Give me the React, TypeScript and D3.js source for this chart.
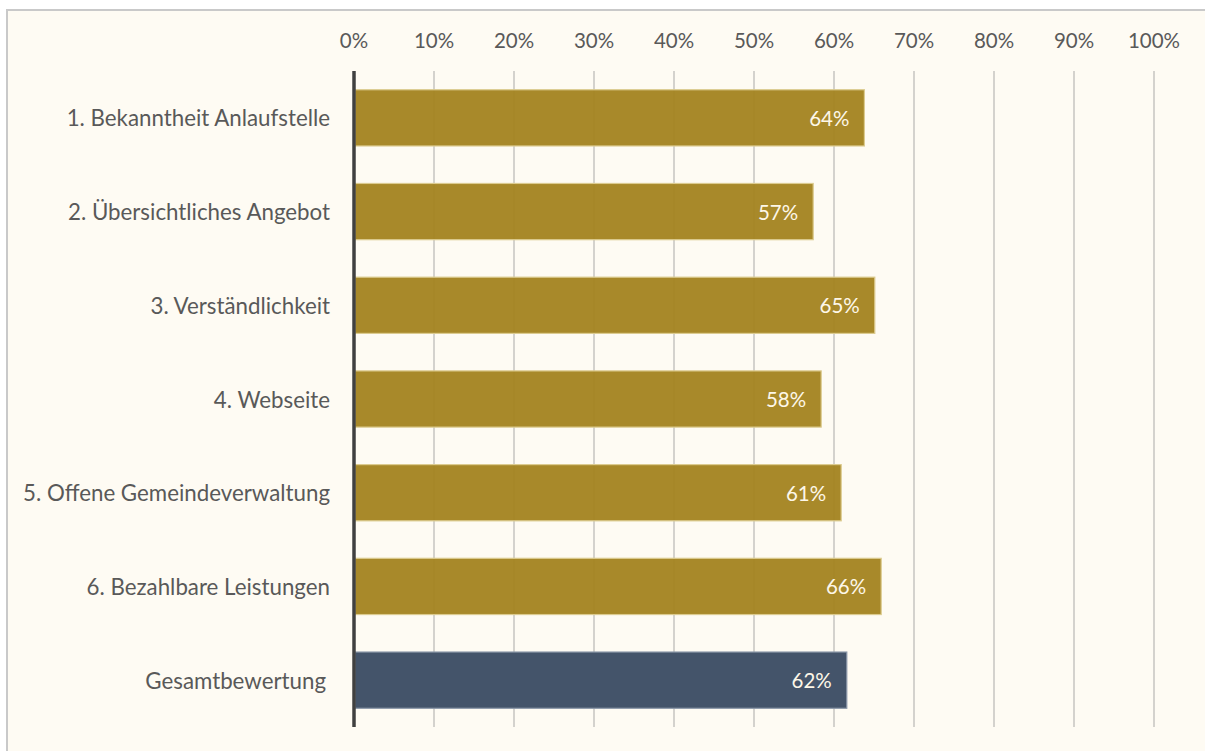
import React from "react";
import * as d3 from "d3";

const categories = [
  "1. Bekanntheit Anlaufstelle",
  "2. Übersichtliches Angebot",
  "3. Verständlichkeit",
  "4. Webseite",
  "5. Offene Gemeindeverwaltung",
  "6. Bezahlbare Leistungen",
  "Gesamtbewertung",
];
const values = [63.8, 57.4, 65.1, 58.4, 60.9, 65.9, 61.6];
const labels = ["64%", "57%", "65%", "58%", "61%", "66%", "62%"];
const ticks = [0, 10, 20, 30, 40, 50, 60, 70, 80, 90, 100];

const W = 1205;
const H = 751;
const FONT = "Lato, 'Open Sans', sans-serif";

export default function App() {
  const x = d3.scaleLinear().domain([0, 100]).range([354, 1154]);
  const y = d3.scaleBand().domain(categories).range([71, 727]).paddingInner(0.4).paddingOuter(0.2);

  return (
    <div style={{ position: "fixed", left: 0, top: 0, width: W, height: H, background: "#fff" }}>
      <svg width={W} height={H} style={{ display: "block" }}>
        <rect x={7} y={10} width={W + 20} height={H + 20} fill="#fefbf3" stroke="#c9c9c9" strokeWidth={2} />
        {ticks.map((t) => (
          <g key={t}>
            {t > 0 && (
              <line x1={x(t)} x2={x(t)} y1={71} y2={727} stroke="#d4d2cd" strokeWidth={2} />
            )}
            <text x={x(t)} y={40} textAnchor="middle" dominantBaseline="central" fontFamily={FONT} fontSize={20.5} fill="#595959">
              {t}%
            </text>
          </g>
        ))}
        {categories.map((c, i) => {
          const last = i === categories.length - 1;
          const yy = y(c)!;
          const bw = y.bandwidth();
          return (
            <g key={c}>
              <rect
                x={x(0) + 1}
                y={yy}
                width={x(values[i]) - x(0) - 1}
                height={bw}
                fill={last ? "#44546a" : "#a3831f"}
                fillOpacity={last ? 1 : 0.95}
                stroke={last ? "#8a97a8" : "#dccb8f"}
                strokeWidth={1.2}
              />
              <text x={x(values[i]) - 15} y={yy + bw / 2} textAnchor="end" dominantBaseline="central" fontFamily={FONT} fontSize={20.5} fill="#fdf7e8">
                {labels[i]}
              </text>
              <text x={last ? 326 : 330} y={yy + bw / 2} textAnchor="end" dominantBaseline="central" fontFamily={FONT} fontSize={22.3} fill="#595959">
                {c}
              </text>
            </g>
          );
        })}
        <line x1={354} x2={354} y1={71} y2={727} stroke="#404040" strokeWidth={3.5} />
      </svg>
    </div>
  );
}
